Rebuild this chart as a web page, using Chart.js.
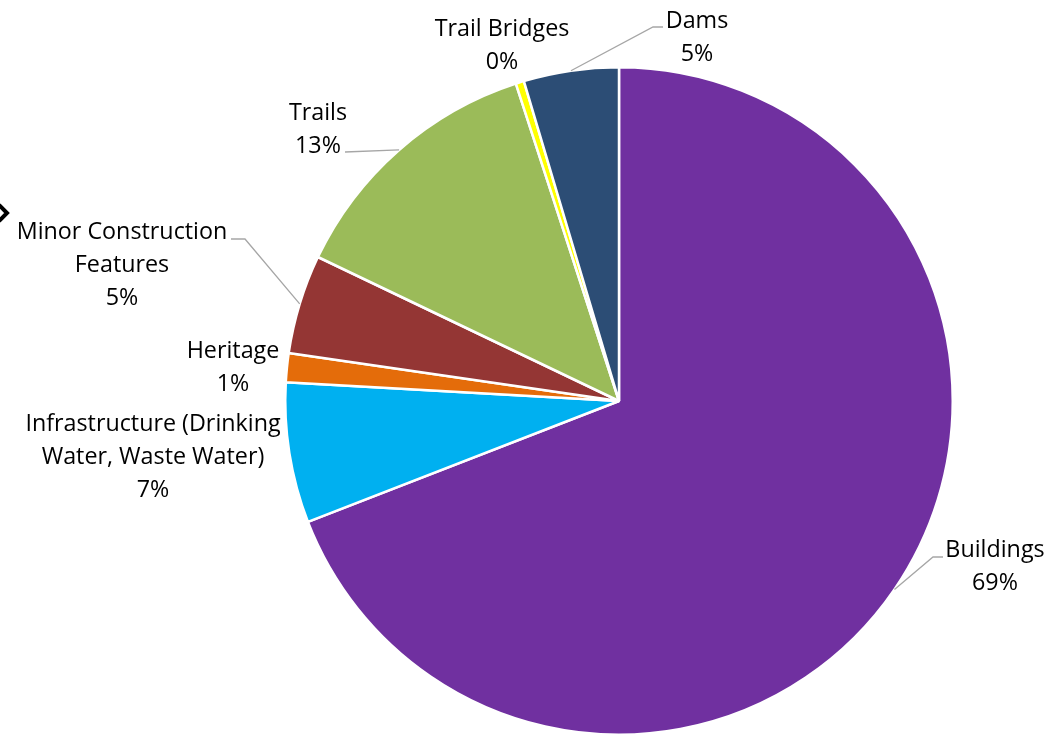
<!DOCTYPE html>
<html>
<head>
<meta charset="utf-8">
<script src="https://cdn.jsdelivr.net/npm/chart.js@4.4.0/dist/chart.umd.min.js"></script>
<style>
  html, body { margin: 0; padding: 0; background: #fff; }
  #wrap { width: 1045px; height: 739px; position: relative; }
</style>
</head>
<body>
<div id="wrap"><canvas id="c"></canvas></div>
<script>
// ---- data ----
const categories = ["Buildings", "Infrastructure (Drinking Water, Waste Water)", "Heritage", "Minor Construction Features", "Trails", "Trail Bridges", "Dams"];
const labelLines = [["Buildings"], ["Infrastructure (Drinking", "Water, Waste Water)"], ["Heritage"], ["Minor Construction", "Features"], ["Trails"], ["Trail Bridges"], ["Dams"]];
const values = [69.1, 6.8, 1.4, 4.8, 12.9, 0.4, 4.6];
const colors = ["#7030A0", "#00B0F0", "#E46C0A", "#943634", "#9BBB59", "#FFFF00", "#2C4D75"];

// label placement (center x, first line middle y) and leader elbows
const labelPos = [[995, 550.5], [153, 424.5], [233, 351.5], [122, 232.5], [318, 113.5], [502, 29.5], [697, 21.5]];
const leaders = [
  [[933, 557], [943, 557]],
  null,
  null,
  [[245, 239], [231, 239]],
  [[345, 152]],
  null,
  [[653, 27], [663, 27]]
];

const labelPlugin = {
  id: 'labels',
  afterDraw(chart) {
    const ctx = chart.ctx;
    const meta = chart.getDatasetMeta(0);
    const total = values.reduce((a, b) => a + b, 0);
    ctx.save();
    // leader lines
    ctx.strokeStyle = '#A6A6A6';
    ctx.lineWidth = 1.3;
    meta.data.forEach((arc, i) => {
      if (!leaders[i]) return;
      const p = arc.getProps(['x', 'y', 'startAngle', 'endAngle', 'outerRadius'], true);
      const mid = (p.startAngle + p.endAngle) / 2;
      const sx = p.x + Math.cos(mid) * p.outerRadius;
      const sy = p.y + Math.sin(mid) * p.outerRadius;
      ctx.beginPath();
      ctx.moveTo(sx, sy);
      leaders[i].forEach(pt => ctx.lineTo(pt[0], pt[1]));
      ctx.stroke();
    });
    // text
    ctx.fillStyle = '#000';
    ctx.font = '23.3px "Open Sans", "Noto Sans", sans-serif';
    ctx.textAlign = 'center';
    ctx.textBaseline = 'middle';
    const lh = 32.8;
    labelLines.forEach((lines, i) => {
      const all = lines.concat([Math.round(values[i] / total * 100) + '%']);
      all.forEach((t, k) => ctx.fillText(t, labelPos[i][0], labelPos[i][1] + k * lh));
    });
    // stray chevron at left edge
    ctx.strokeStyle = '#000';
    ctx.lineWidth = 4;
    ctx.lineJoin = 'miter';
    ctx.beginPath();
    ctx.moveTo(-1, 205);
    ctx.lineTo(7, 213);
    ctx.lineTo(-1, 221);
    ctx.stroke();
    ctx.restore();
  }
};

new Chart(document.getElementById('c'), {
  type: 'pie',
  data: {
    labels: categories,
    datasets: [{
      data: values,
      backgroundColor: colors,
      borderColor: '#ffffff',
      borderWidth: 2.5
    }]
  },
  options: {
    responsive: true,
    maintainAspectRatio: false,
    animation: false,
    layout: { padding: { left: 193, right: 0, top: 66, bottom: 3 } },
    plugins: { legend: { display: false }, tooltip: { enabled: false } }
  },
  plugins: [labelPlugin]
});
</script>
</body>
</html>
